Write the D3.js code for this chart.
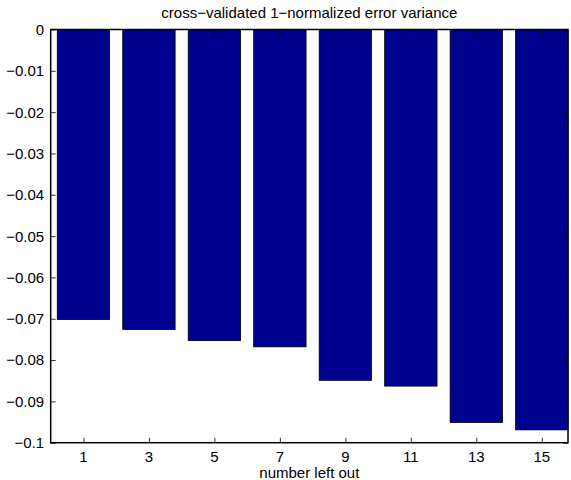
<!DOCTYPE html>
<html>
<head>
<meta charset="UTF-8">
<script src="https://cdn.jsdelivr.net/npm/d3@7"></script>
<style>
  body { margin: 0; background: #fff; }
  text { font-family: "Liberation Sans", Arial, sans-serif; fill: #000; }
</style>
</head>
<body>
<div id="chart"></div>
<script>
// values
const leftOut = [1, 3, 5, 7, 9, 11, 13, 15];
const errVar = [-0.0702, -0.0726, -0.0753, -0.0768, -0.0849, -0.0863, -0.0951, -0.0969];
const yTicks = [0, -0.01, -0.02, -0.03, -0.04, -0.05, -0.06, -0.07, -0.08, -0.09, -0.1];

const W = 571, H = 480;
const plotL = 50.7, plotR = 568, plotT = 29.5, plotB = 442.7;
const fs = 15;

const svg = d3.select("#chart").append("svg")
    .attr("width", W).attr("height", H);

const x = d3.scaleLinear().domain([0, 15.8]).range([plotL, plotR]);
const y = d3.scaleLinear().domain([0, -0.1]).range([plotT, plotB]);

const fmt = d => d === 0 ? "0" : "\u2212" + String(Math.abs(d));

// bars
svg.selectAll("rect.bar")
    .data(leftOut)
    .join("rect")
    .attr("class", "bar")
    .attr("x", d => x(d - 0.8))
    .attr("width", d => x(d + 0.8) - x(d - 0.8))
    .attr("y", y(0))
    .attr("height", (d, i) => y(errVar[i]) - y(0))
    .attr("fill", "#00008f")
    .attr("stroke", "#000")
    .attr("stroke-width", 0.8);

// axes, ticks pointing inward
const tickLen = 5;
svg.append("g")
    .attr("transform", `translate(${plotL},0)`)
    .call(d3.axisRight(y).tickValues(yTicks).tickSize(tickLen).tickFormat(""))
    .call(g => g.select(".domain").remove());
svg.append("g")
    .attr("transform", `translate(${plotR},0)`)
    .call(d3.axisLeft(y).tickValues(yTicks).tickSize(tickLen).tickFormat(""))
    .call(g => g.select(".domain").remove());
svg.append("g")
    .attr("transform", `translate(0,${plotB})`)
    .call(d3.axisTop(x).tickValues(leftOut).tickSize(tickLen).tickFormat(""))
    .call(g => g.select(".domain").remove());
svg.append("g")
    .attr("transform", `translate(0,${plotT})`)
    .call(d3.axisBottom(x).tickValues(leftOut).tickSize(tickLen).tickFormat(""))
    .call(g => g.select(".domain").remove());

svg.selectAll(".tick line").attr("stroke", "#000").attr("stroke-width", 0.8);

// box
svg.append("rect")
    .attr("x", plotL).attr("y", plotT)
    .attr("width", plotR - plotL).attr("height", plotB - plotT)
    .attr("fill", "none")
    .attr("stroke", "#000")
    .attr("stroke-width", 1.5);

// tick labels
svg.append("g").selectAll("text")
    .data(yTicks)
    .join("text")
    .attr("x", plotL - 6.5)
    .attr("y", d => y(d))
    .attr("dy", "0.36em")
    .attr("text-anchor", "end")
    .attr("font-size", fs)
    .text(fmt);

svg.append("g").selectAll("text")
    .data(leftOut)
    .join("text")
    .attr("x", d => x(d))
    .attr("y", 462)
    .attr("text-anchor", "middle")
    .attr("font-size", fs)
    .text(d => d);

svg.append("text")
    .attr("x", (plotL + plotR) / 2)
    .attr("y", 478)
    .attr("text-anchor", "middle")
    .attr("font-size", fs)
    .text("number left out");

svg.append("text")
    .attr("x", (plotL + plotR) / 2)
    .attr("y", 18)
    .attr("text-anchor", "middle")
    .attr("font-size", fs)
    .text("cross\u2212validated 1\u2212normalized error variance");
</script>
</body>
</html>
